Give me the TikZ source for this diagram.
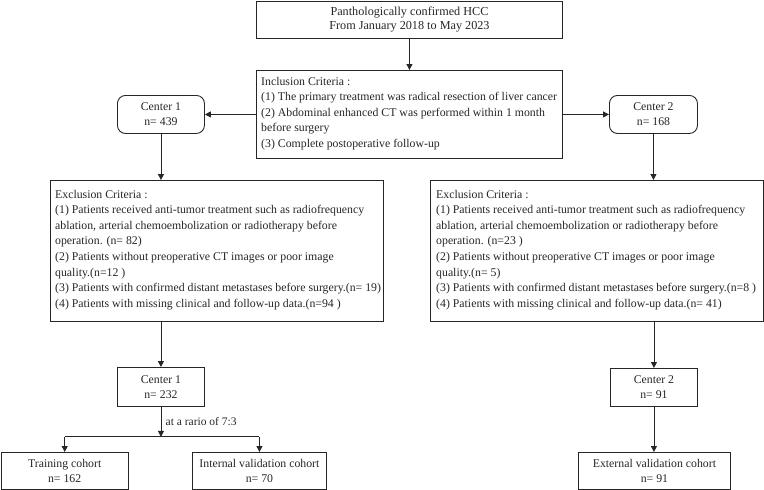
\documentclass[tikz,border=0pt]{standalone}
\usepackage{fontspec}
\setmainfont{Liberation Serif}
\usetikzlibrary{arrows.meta}
\begin{document}
\begin{tikzpicture}[x=1pt,y=-1pt,
  frame/.style={draw=black!85, line width=0.9pt, inner sep=0pt, anchor=north west},
  ctext/.style={font=\fontsize{11.8}{14.5}\selectfont, align=center, text=black!85},
  ltext/.style={font=\fontsize{11.8}{15.6}\selectfont, align=left, anchor=west, inner sep=0pt, text=black!85},
  arr/.style={-{Triangle[length=6pt,width=6pt]}, line width=0.9pt, draw=black!85},
  ln/.style={line width=0.9pt, draw=black!85}]
\useasboundingbox (0,0) rectangle (764,490);

% top box
\node[frame, minimum width=306pt, minimum height=37pt, ctext, font=\fontsize{12.2}{14}\selectfont] (top) at (256,1)
  {Panthologically confirmed HCC\\From January 2018 to May 2023};

% inclusion
\node[frame, minimum width=306pt, minimum height=88pt] (incl) at (256,70) {};
\node[ltext] (inclt) at ([xshift=5pt,yshift=1pt]incl.west)
  {Inclusion Criteria :\\
   (1) The primary treatment was radical resection of liver cancer\\
   (2) Abdominal enhanced CT was performed within 1 month\\
   before surgery\\
   (3) Complete postoperative follow-up};

% centers
\node[frame, rounded corners=8pt, minimum width=87pt, minimum height=38pt, ctext, font=\fontsize{11.8}{15}\selectfont] (c1) at (117,95) {Center 1\\n= 439};
\node[frame, rounded corners=8pt, minimum width=88pt, minimum height=38pt, ctext, font=\fontsize{11.8}{15}\selectfont] (c2) at (609,95) {Center 2\\n= 168};

% exclusion boxes
\node[frame, minimum width=333pt, minimum height=141pt] (ex1) at (50,180) {};
\node[ltext] (ex1t) at ([xshift=5pt,yshift=1pt]ex1.west)
  {Exclusion Criteria :\\
   (1) Patients received anti-tumor treatment such as radiofrequency\\
   ablation, arterial chemoembolization or radiotherapy before\\
   operation. (n= 82)\\
   (2) Patients without preoperative CT images or poor image\\
   quality.(n=12 )\\
   (3) Patients with confirmed distant metastases before surgery.(n= 19)\\
   (4) Patients with missing clinical and follow-up data.(n=94 )};

\node[frame, minimum width=333pt, minimum height=141pt] (ex2) at (430,180) {};
\node[ltext] (ex2t) at ([xshift=6pt,yshift=1pt]ex2.west)
  {Exclusion Criteria :\\
   (1) Patients received anti-tumor treatment such as radiofrequency\\
   ablation, arterial chemoembolization or radiotherapy before\\
   operation. (n=23 )\\
   (2) Patients without preoperative CT images or poor image\\
   quality.(n= 5)\\
   (3) Patients with confirmed distant metastases before surgery.(n=8 )\\
   (4) Patients with missing clinical and follow-up data.(n= 41)};

% second-level centers
\node[frame, minimum width=87pt, minimum height=39pt, ctext, font=\fontsize{11.8}{15}\selectfont] (c1b) at (117,367) {Center 1\\n= 232};
\node[frame, minimum width=87pt, minimum height=38pt, ctext, font=\fontsize{11.8}{15}\selectfont] (c2b) at (610,368) {Center 2\\n= 91};

% cohorts
\node[frame, minimum width=127.5pt, minimum height=37pt, ctext] (train) at (0.5,452) {Training cohort\\n= 162};
\node[frame, minimum width=134pt, minimum height=37pt, ctext] (intv) at (192,452) {Internal validation cohort\\n= 70};
\node[frame, minimum width=152pt, minimum height=37pt, ctext] (extv) at (578,452) {External validation cohort\\n= 91};

% connectors
\draw[arr] (top.south) -- (incl.north);
\draw[arr] (incl.west |- c1.east) -- (c1.east);
\draw[arr] (incl.east |- c2.west) -- (c2.west);
\draw[arr] (c1.south) -- (c1.south |- ex1.north);
\draw[arr] (c2.south) -- (c2.south |- ex2.north);
\draw[arr] (ex1.south -| c1b.north) -- (c1b.north);
\draw[arr] (ex2.south -| c2b.north) -- (c2b.north);
\coordinate (split) at ([yshift=-30pt]c1b.south);
\draw[arr] (c1b.south) -- node[right, font=\fontsize{11.5}{13}\selectfont, text=black!85, xshift=1pt] (ratio) {at a rario of 7:3} (split);
\draw[ln] (split -| train.north) -- (split -| intv.north);
\draw[arr] (split -| train.north) -- (train.north);
\draw[arr] (split -| intv.north) -- (intv.north);
\draw[arr] (c2b.south) -- (extv.north -| c2b.south);
\end{tikzpicture}
\end{document}
